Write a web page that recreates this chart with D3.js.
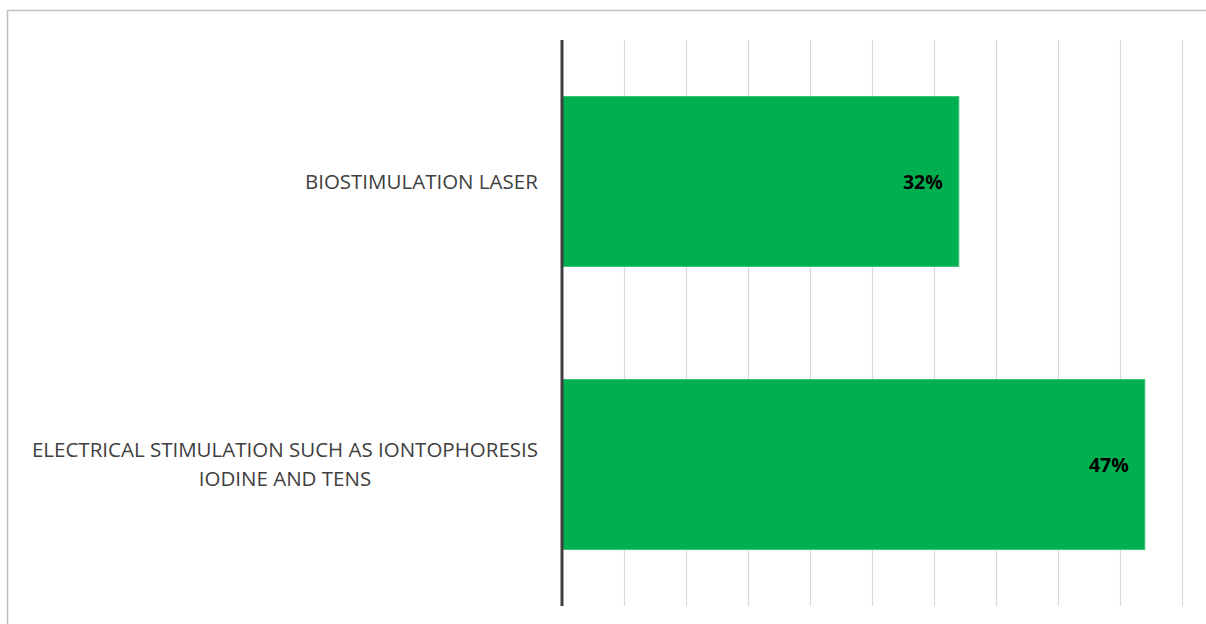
<!DOCTYPE html>
<html>
<head>
<meta charset="utf-8">
<script src="https://cdn.jsdelivr.net/npm/d3@7"></script>
<style>
  html, body { margin: 0; padding: 0; background: #ffffff; }
  svg { display: block; }
</style>
</head>
<body>
<div id="chart"></div>
<script>
// Share of respondents using each physical therapy modality
const categories = [
  ["BIOSTIMULATION LASER"],
  ["ELECTRICAL STIMULATION SUCH AS IONTOPHORESIS", "IODINE AND TENS"]
];
const values = [32, 47];
const xTicks = [0, 5, 10, 15, 20, 25, 30, 35, 40, 45, 50];

const width = 1206, height = 624;
const plot = { left: 562, right: 1182, top: 40, bottom: 606 };

const svg = d3.select("#chart").append("svg")
  .attr("width", width)
  .attr("height", height);

// chart area frame
svg.append("rect")
  .attr("x", 7.5).attr("y", 10.5)
  .attr("width", width).attr("height", height)
  .attr("fill", "#ffffff")
  .attr("stroke", "#bfbfbf")
  .attr("stroke-width", 1.5);

const x = d3.scaleLinear().domain([0, 50]).range([plot.left, plot.right]);
const y = d3.scaleBand()
  .domain(d3.range(categories.length))
  .range([plot.top, plot.bottom])
  .paddingInner(0.4)
  .paddingOuter(0.2);

// vertical gridlines
svg.append("g")
  .attr("transform", `translate(0,${plot.bottom})`)
  .call(d3.axisBottom(x).tickValues(xTicks).tickSize(-(plot.bottom - plot.top)).tickFormat(""))
  .call(g => g.select(".domain").remove())
  .call(g => g.selectAll(".tick line").attr("stroke", "#d9d9d9").attr("stroke-width", 1.2));

// bars
svg.append("g").selectAll("rect")
  .data(values)
  .join("rect")
  .attr("x", x(0))
  .attr("y", (d, i) => y(i))
  .attr("width", d => x(d) - x(0))
  .attr("height", y.bandwidth())
  .attr("fill", "#00b050")
  .attr("stroke", "#2fc46f")
  .attr("stroke-width", 1);

// value labels inside bar ends
svg.append("g").selectAll("text")
  .data(values)
  .join("text")
  .attr("x", d => x(d) - 16)
  .attr("y", (d, i) => y(i) + y.bandwidth() / 2)
  .attr("dy", "0.36em")
  .attr("text-anchor", "end")
  .attr("font-family", "'Open Sans', sans-serif")
  .attr("font-weight", "bold")
  .attr("font-size", 19.5)
  .attr("fill", "#000000")
  .text(d => d + "%");

// category axis line
svg.append("line")
  .attr("x1", x(0)).attr("x2", x(0))
  .attr("y1", plot.top).attr("y2", plot.bottom)
  .attr("stroke", "#404040")
  .attr("stroke-width", 3);

// category labels (multi-line, centred block, right aligned to axis)
const lineH = 29;
const labelRight = 538;
const labels = svg.append("g")
  .attr("font-family", "'Open Sans', sans-serif")
  .attr("font-size", 20.5)
  .attr("fill", "#404040");

categories.forEach((lines, i) => {
  const cy = y(i) + y.bandwidth() / 2;
  const t = labels.append("text")
    .attr("text-anchor", "middle");
  lines.forEach((ln, j) => {
    t.append("tspan")
      .attr("x", 0)
      .attr("y", cy + (j - (lines.length - 1) / 2) * lineH)
      .attr("dy", "0.36em")
      .text(ln);
  });
  // centre the block so its right edge sits just left of the axis
  const bb = t.node().getBBox();
  t.selectAll("tspan").attr("x", labelRight - bb.width / 2);
});
</script>
</body>
</html>
